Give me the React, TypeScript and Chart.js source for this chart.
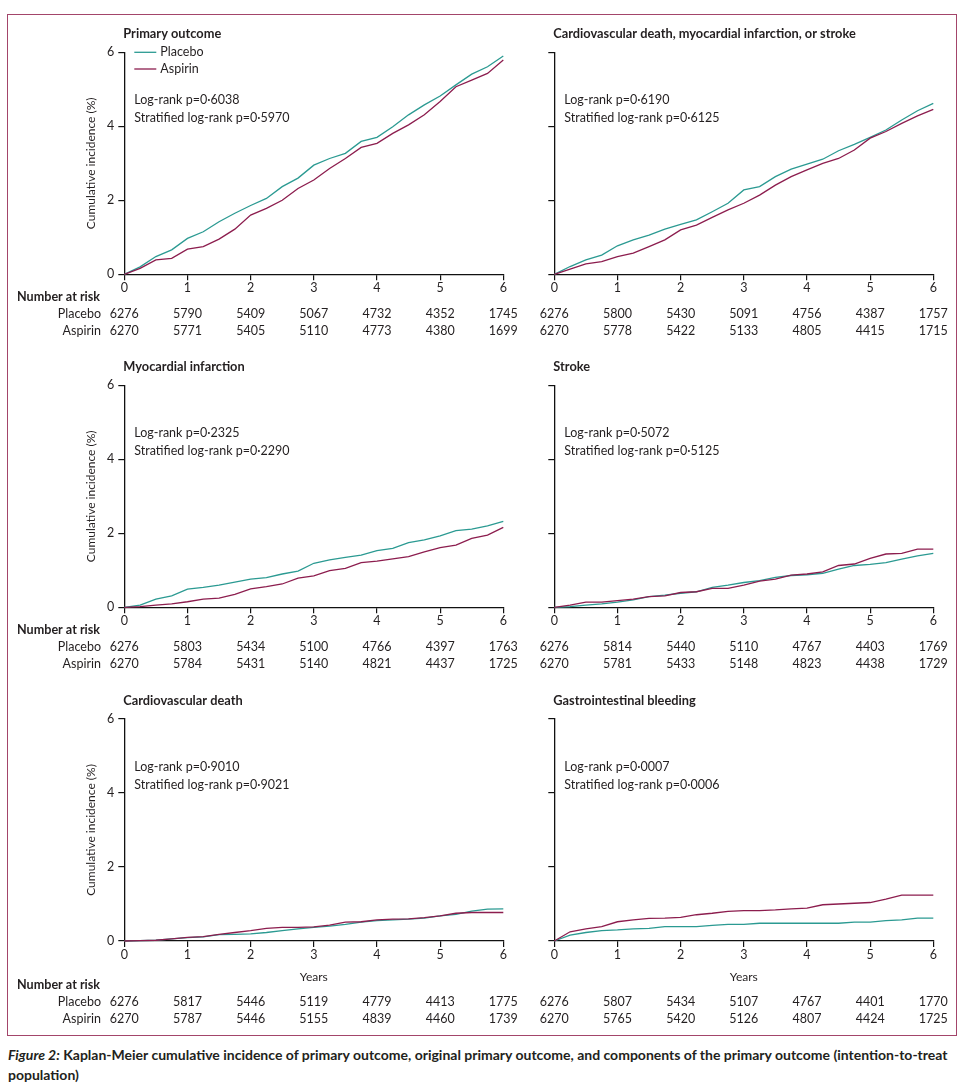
import React, { useEffect, useRef } from "react";
import { Chart, registerables } from "chart.js";

Chart.register(...registerables);

// ---------- data ----------
const years = [0, 0.25, 0.5, 0.75, 1, 1.25, 1.5, 1.75, 2, 2.25, 2.5, 2.75, 3, 3.25, 3.5, 3.75, 4, 4.25, 4.5, 4.75, 5, 5.25, 5.5, 5.75, 6];
const yearsStroke = [...years, 6.17];
const riskYears = [0, 1, 2, 3, 4, 5, 6];
const yTicks = [0, 2, 4, 6];

const primaryPlacebo = [0, 0.2, 0.48, 0.66, 0.97, 1.15, 1.42, 1.65, 1.86, 2.05, 2.37, 2.6, 2.95, 3.13, 3.27, 3.59, 3.7, 3.99, 4.31, 4.58, 4.82, 5.12, 5.41, 5.61, 5.9];
const primaryAspirin = [0, 0.16, 0.39, 0.43, 0.68, 0.75, 0.95, 1.22, 1.6, 1.78, 2.0, 2.32, 2.55, 2.86, 3.13, 3.43, 3.54, 3.81, 4.04, 4.31, 4.67, 5.07, 5.25, 5.43, 5.79];

const cvmsPlacebo = [0, 0.21, 0.39, 0.52, 0.77, 0.93, 1.06, 1.22, 1.35, 1.47, 1.69, 1.92, 2.28, 2.37, 2.64, 2.84, 2.98, 3.11, 3.34, 3.51, 3.7, 3.9, 4.17, 4.42, 4.62];
const cvmsAspirin = [0, 0.14, 0.28, 0.34, 0.48, 0.57, 0.75, 0.93, 1.2, 1.33, 1.54, 1.74, 1.92, 2.14, 2.41, 2.64, 2.82, 3.0, 3.13, 3.36, 3.68, 3.86, 4.08, 4.28, 4.46];

const miPlacebo = [0, 0.06, 0.22, 0.31, 0.49, 0.54, 0.6, 0.68, 0.76, 0.8, 0.9, 0.98, 1.19, 1.28, 1.35, 1.41, 1.53, 1.59, 1.75, 1.82, 1.93, 2.07, 2.11, 2.2, 2.32];
const miAspirin = [0, 0.02, 0.06, 0.09, 0.15, 0.22, 0.25, 0.35, 0.5, 0.56, 0.63, 0.79, 0.85, 0.99, 1.05, 1.21, 1.25, 1.31, 1.37, 1.5, 1.61, 1.68, 1.86, 1.95, 2.16];

const strokePlacebo = [0, 0.02, 0.06, 0.09, 0.14, 0.2, 0.29, 0.33, 0.38, 0.42, 0.54, 0.6, 0.67, 0.72, 0.81, 0.86, 0.88, 0.92, 1.03, 1.13, 1.16, 1.21, 1.3, 1.39, 1.46, 1.46];
const strokeAspirin = [0, 0.06, 0.14, 0.14, 0.18, 0.22, 0.29, 0.31, 0.4, 0.42, 0.51, 0.51, 0.6, 0.71, 0.76, 0.87, 0.9, 0.96, 1.13, 1.17, 1.32, 1.44, 1.46, 1.57, 1.57, 1.57];

const cvdPlacebo = [0, 0.01, 0.02, 0.06, 0.09, 0.11, 0.17, 0.18, 0.19, 0.23, 0.28, 0.33, 0.37, 0.4, 0.45, 0.51, 0.55, 0.57, 0.59, 0.62, 0.68, 0.72, 0.81, 0.86, 0.87];
const cvdAspirin = [0, 0.01, 0.02, 0.06, 0.1, 0.12, 0.18, 0.23, 0.28, 0.34, 0.37, 0.37, 0.38, 0.43, 0.51, 0.52, 0.57, 0.59, 0.6, 0.63, 0.68, 0.75, 0.77, 0.77, 0.77];

const giPlacebo = [0, 0.16, 0.23, 0.28, 0.3, 0.33, 0.34, 0.39, 0.39, 0.39, 0.42, 0.45, 0.45, 0.48, 0.48, 0.48, 0.48, 0.48, 0.48, 0.51, 0.51, 0.55, 0.57, 0.62, 0.62];
const giAspirin = [0, 0.25, 0.33, 0.39, 0.52, 0.57, 0.61, 0.62, 0.64, 0.71, 0.75, 0.8, 0.82, 0.82, 0.84, 0.87, 0.89, 0.98, 1.0, 1.02, 1.04, 1.13, 1.24, 1.24, 1.24];

const primaryRiskPlacebo = [6276, 5790, 5409, 5067, 4732, 4352, 1745];
const primaryRiskAspirin = [6270, 5771, 5405, 5110, 4773, 4380, 1699];
const cvmsRiskPlacebo = [6276, 5800, 5430, 5091, 4756, 4387, 1757];
const cvmsRiskAspirin = [6270, 5778, 5422, 5133, 4805, 4415, 1715];
const miRiskPlacebo = [6276, 5803, 5434, 5100, 4766, 4397, 1763];
const miRiskAspirin = [6270, 5784, 5431, 5140, 4821, 4437, 1725];
const strokeRiskPlacebo = [6276, 5814, 5440, 5110, 4767, 4403, 1769];
const strokeRiskAspirin = [6270, 5781, 5433, 5148, 4823, 4438, 1729];
const cvdRiskPlacebo = [6276, 5817, 5446, 5119, 4779, 4413, 1775];
const cvdRiskAspirin = [6270, 5787, 5446, 5155, 4839, 4460, 1739];
const giRiskPlacebo = [6276, 5807, 5434, 5107, 4767, 4401, 1770];
const giRiskAspirin = [6270, 5765, 5420, 5126, 4807, 4424, 1725];

const titles = [
  "Primary outcome",
  "Cardiovascular death, myocardial infarction, or stroke",
  "Myocardial infarction",
  "Stroke",
  "Cardiovascular death",
  "Gastrointestinal bleeding",
];
const logRankP = ["0·6038", "0·6190", "0·2325", "0·5072", "0·9010", "0·0007"];
const stratifiedP = ["0·5970", "0·6125", "0·2290", "0·5125", "0·9021", "0·0006"];

// ---------- style ----------
const FONT = "Lato, 'Open Sans', sans-serif";
const TEXT = "#231f20";
const PLACEBO = "#2b9a92";
const ASPIRIN = "#8c1d4e";
const FRAME = "#a3456a";

const colX0 = [124.3, 554.3];
const colX6 = [503.3, 933.3];
const rowY6 = [52.3, 385.3, 719];
const rowY0 = [274.3, 607.3, 941];
const colCanvas = [
  { cx: 8, cw: 532 },
  { cx: 536, cw: 420 },
];
const rowCanvas = [
  { cy: 20, ch: 325 },
  { cy: 353, ch: 327 },
  { cy: 687, ch: 345 },
];

type PanelCfg = {
  idx: number;
  col: number;
  row: number;
  xs: number[];
  placebo: number[];
  aspirin: number[];
  riskP: number[];
  riskA: number[];
};

const panels: PanelCfg[] = [
  { idx: 0, col: 0, row: 0, xs: years, placebo: primaryPlacebo, aspirin: primaryAspirin, riskP: primaryRiskPlacebo, riskA: primaryRiskAspirin },
  { idx: 1, col: 1, row: 0, xs: years, placebo: cvmsPlacebo, aspirin: cvmsAspirin, riskP: cvmsRiskPlacebo, riskA: cvmsRiskAspirin },
  { idx: 2, col: 0, row: 1, xs: years, placebo: miPlacebo, aspirin: miAspirin, riskP: miRiskPlacebo, riskA: miRiskAspirin },
  { idx: 3, col: 1, row: 1, xs: yearsStroke, placebo: strokePlacebo, aspirin: strokeAspirin, riskP: strokeRiskPlacebo, riskA: strokeRiskAspirin },
  { idx: 4, col: 0, row: 2, xs: years, placebo: cvdPlacebo, aspirin: cvdAspirin, riskP: cvdRiskPlacebo, riskA: cvdRiskAspirin },
  { idx: 5, col: 1, row: 2, xs: years, placebo: giPlacebo, aspirin: giAspirin, riskP: giRiskPlacebo, riskA: giRiskAspirin },
];

const decorPlugin = {
  id: "decor",
  afterDraw(chart: any, _args: any, opts: any) {
    const { ctx, chartArea } = chart;
    const xs = chart.scales.x;
    const p: PanelCfg = opts.panel;
    const cx = colCanvas[p.col].cx;
    const L = chartArea.left;
    const T = chartArea.top;
    const B = chartArea.bottom;
    ctx.save();
    ctx.fillStyle = TEXT;
    ctx.textBaseline = "middle";

    // title
    ctx.textAlign = "left";
    ctx.font = `bold 12.8px ${FONT}`;
    ctx.fillText(titles[p.idx], L - 1, T - 18);

    // legend
    if (p.idx === 0) {
      ctx.lineWidth = 1.3;
      ctx.strokeStyle = PLACEBO;
      ctx.beginPath();
      ctx.moveTo(L + 10, T);
      ctx.lineTo(L + 32, T);
      ctx.stroke();
      ctx.strokeStyle = ASPIRIN;
      ctx.beginPath();
      ctx.moveTo(L + 10, T + 16.7);
      ctx.lineTo(L + 32, T + 16.7);
      ctx.stroke();
      ctx.font = `12.5px ${FONT}`;
      ctx.fillText("Placebo", L + 36, T);
      ctx.fillText("Aspirin", L + 36, T + 16.7);
    }

    // p-values
    ctx.font = `12.5px ${FONT}`;
    ctx.fillText(`Log-rank p=${logRankP[p.idx]}`, L + 10, T + 48);
    ctx.fillText(`Stratified log-rank p=${stratifiedP[p.idx]}`, L + 10, T + 66);

    // y title
    if (p.col === 0) {
      ctx.save();
      ctx.translate(L - 33, (T + B) / 2);
      ctx.rotate(-Math.PI / 2);
      ctx.textAlign = "center";
      ctx.font = `12px ${FONT}`;
      ctx.fillText("Cumulative incidence (%)", 0, 0);
      ctx.restore();
    }

    // x title
    let off = 0;
    if (p.row === 2) {
      ctx.textAlign = "center";
      ctx.font = `12px ${FONT}`;
      ctx.fillText("Years", (chartArea.left + chartArea.right) / 2, B + 36);
      off = 21;
    }

    // number at risk
    const yNar = B + 23 + off;
    const yP = B + 40 + off;
    const yA = B + 57 + off;
    if (p.col === 0) {
      ctx.textAlign = "left";
      ctx.font = `bold 12.6px ${FONT}`;
      ctx.fillText("Number at risk", 17 - cx, yNar);
      ctx.textAlign = "right";
      ctx.font = `12.5px ${FONT}`;
      ctx.fillText("Placebo", 101 - cx, yP);
      ctx.fillText("Aspirin", 101 - cx, yA);
    }
    ctx.textAlign = "center";
    ctx.font = `12.5px ${FONT}`;
    riskYears.forEach((yr, i) => {
      const px = xs.getPixelForValue(yr);
      ctx.fillText(String(p.riskP[i]), px, yP);
      ctx.fillText(String(p.riskA[i]), px, yA);
    });
    ctx.restore();
  },
};

function Panel({ p }: { p: PanelCfg }) {
  const ref = useRef<HTMLCanvasElement | null>(null);
  const { cx, cw } = colCanvas[p.col];
  const { cy, ch } = rowCanvas[p.row];
  useEffect(() => {
    if (!ref.current) return;
    const X0 = colX0[p.col];
    const X6 = colX6[p.col];
    const Y6 = rowY6[p.row];
    const Y0 = rowY0[p.row];
    const chart = new Chart(ref.current, {
      type: "line",
      data: {
        datasets: [
          {
            label: "Aspirin",
            data: p.xs.map((x, i) => ({ x, y: p.aspirin[i] })),
            borderColor: ASPIRIN,
            borderWidth: 1.3,
            pointRadius: 0,
            tension: 0,
            fill: false,
            clip: false as any,
          },
          {
            label: "Placebo",
            data: p.xs.map((x, i) => ({ x, y: p.placebo[i] })),
            borderColor: PLACEBO,
            borderWidth: 1.3,
            pointRadius: 0,
            tension: 0,
            fill: false,
            clip: false as any,
          },
        ],
      },
      options: {
        animation: false,
        responsive: false,
        maintainAspectRatio: false,
        events: [],
        layout: {
          padding: { left: 0, top: Y6 - cy, right: cx + cw - X6, bottom: 0 },
        },
        plugins: {
          legend: { display: false },
          tooltip: { enabled: false },
          decor: { panel: p },
        } as any,
        scales: {
          x: {
            type: "linear",
            min: 0,
            max: 6,
            afterFit: (s: any) => {
              s.height = cy + ch - Y0;
            },
            afterBuildTicks: (s: any) => {
              s.ticks = riskYears.map((v) => ({ value: v }));
            },
            ticks: {
              stepSize: 1,
              padding: 0,
              color: TEXT,
              font: { family: FONT, size: 12.5 },
              maxRotation: 0,
              autoSkip: false,
            },
            grid: {
              drawOnChartArea: false,
              drawTicks: true,
              tickLength: 6,
              color: "#111",
              lineWidth: 1.2,
            },
            border: { display: true, color: "#111", width: 1.3 },
          },
          y: {
            type: "linear",
            min: 0,
            max: 6,
            afterFit: (s: any) => {
              s.width = X0 - cx;
            },
            afterBuildTicks: (s: any) => {
              s.ticks = yTicks.map((v) => ({ value: v }));
            },
            ticks: {
              stepSize: 2,
              padding: 4,
              color: TEXT,
              font: { family: FONT, size: 12.5 },
              callback: (v: any) => (p.col === 0 ? String(v) : ""),
            },
            grid: {
              drawOnChartArea: false,
              drawTicks: true,
              tickLength: 6,
              color: "#111",
              lineWidth: 1.2,
            },
            border: { display: true, color: "#111", width: 1.3 },
          },
        },
      },
      plugins: [decorPlugin as any],
    });
    return () => chart.destroy();
  }, []);
  return (
    <canvas
      ref={ref}
      width={cw}
      height={ch}
      style={{ position: "absolute", left: cx, top: cy, width: cw, height: ch }}
    />
  );
}

export default function App() {
  return (
    <div
      style={{
        position: "absolute",
        left: 0,
        top: 0,
        width: 964,
        height: 1085,
        background: "#fff",
        fontFamily: FONT,
        color: TEXT,
        overflow: "hidden",
      }}
    >
      <div
        style={{
          position: "absolute",
          left: 7,
          top: 14,
          width: 950,
          height: 1022,
          border: `1.5px solid ${FRAME}`,
          boxSizing: "border-box",
        }}
      />
      {panels.map((p) => (
        <Panel key={p.idx} p={p} />
      ))}
      <div
        style={{
          position: "absolute",
          left: 8,
          top: 1045,
          width: 950,
          fontSize: 14,
          lineHeight: "20px",
          fontWeight: 700,
          whiteSpace: "nowrap",
        }}
      >
        <span style={{ fontStyle: "italic" }}>Figure 2:</span> Kaplan-Meier cumulative incidence of primary outcome, original primary outcome, and components of the primary outcome (intention-to-treat
        <br />
        population)
      </div>
    </div>
  );
}
